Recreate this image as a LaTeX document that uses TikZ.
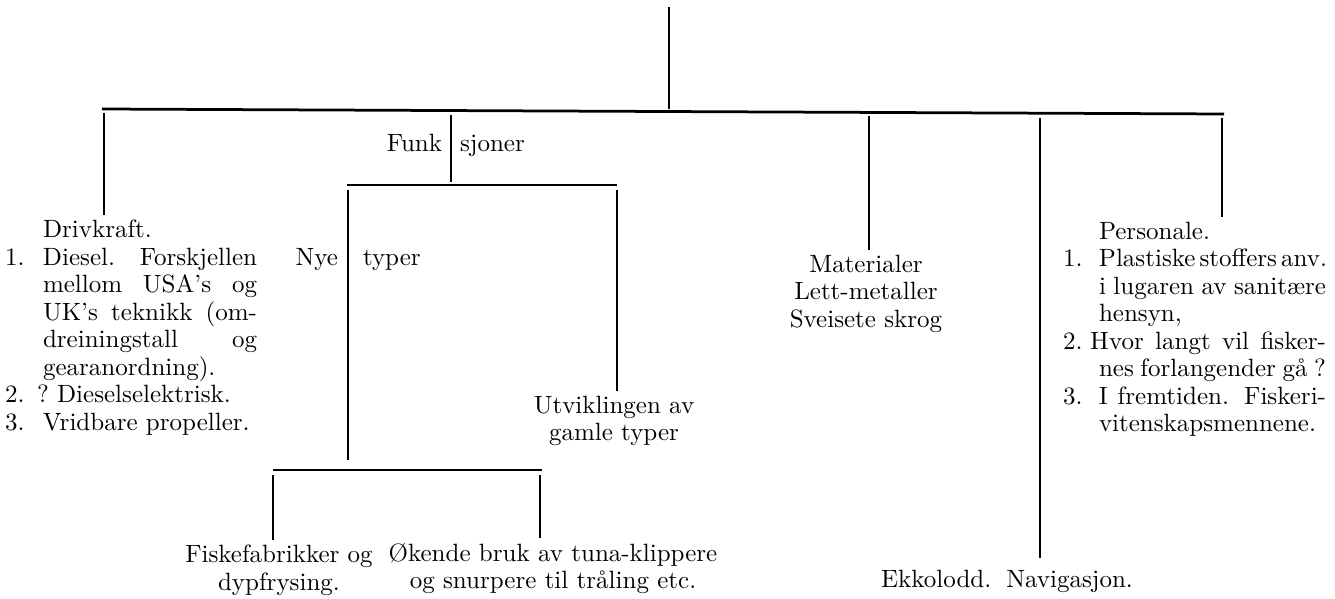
\documentclass[tikz,border=0pt]{standalone}
\newlength\numw
\newlength\txtw
\newcommand{\jline}[2]{\makebox[\numw][l]{#1}\makebox[\txtw][s]{#2}}
\newcommand{\lline}[2]{\makebox[\numw][l]{#1}\makebox[\txtw][l]{#2}}
\begin{document}
\begin{tikzpicture}[x=0.4pt,y=-0.4pt]
	\tikzstyle{entry}=[inner sep=0pt,outer sep=2pt,font=\fontsize{10}{11}\selectfont]
	\tikzstyle{bar}=[draw, line width=1.1pt]
	\tikzstyle{branch}=[draw, line width=0.9pt]
	\useasboundingbox (0,0) rectangle (1335,599);
	\begin{scope}
		\coordinate (root) at (669,7);
		\coordinate (barL) at (102,109);
		\coordinate (barR) at (1224,114);
		\coordinate (bDrv) at (104,113);
		\coordinate (bFnk) at (451,115);
		\coordinate (fFnk) at (451,182);
		\coordinate (bMat) at (869,116);
		\coordinate (bEkk) at (1040,118);
		\coordinate (bPer) at (1222,118);
		\coordinate (subL) at (347,185);
		\coordinate (subR) at (617,185);
		\coordinate (nyeT) at (348,190);
		\coordinate (nyeB) at (348,460);
		\coordinate (utvT) at (617,190);
		\coordinate (lowL) at (273,470);
		\coordinate (lowR) at (542,470);
		\coordinate (fskT) at (273,475);
		\coordinate (okeT) at (540,475);
		\setlength\numw{15.2pt}\setlength\txtw{85.6pt}
		\node [entry, anchor=north west, align=left] (drive) at (0,215) {\lline{}{Drivkraft.}\\
			\jline{1.}{Diesel. Forskjellen}\\
			\jline{}{mellom USA's og}\\
			\jline{}{UK's teknikk (om-}\\
			\jline{}{dreiningstall og}\\
			\lline{}{gearanordning).}\\
			\lline{2.}{\hspace*{-2.4pt}?~Dieselselektrisk.}\\
			\lline{3.}{Vridbare propeller.}};
		\setlength\numw{14.4pt}\setlength\txtw{90.8pt}
		\node [entry, anchor=north west, align=left] (pers) at (1058,217) {\lline{}{Personale.}\\
			\lline{1.}{Plastiske\,stoffers\,anv.}\\
			\jline{}{i lugaren av sanit\ae re}\\
			\lline{}{hensyn,}\\
			\jline{2.}{\hspace*{-3.5pt}Hvor langt vil fisker-}\\
			\jline{}{nes forlangender g\aa{} ?}\\
			\jline{3.}{I fremtiden. Fiskeri-}\\
			\lline{}{vitenskapsmennene.}};
		\node [entry, anchor=base east] (funk) at (447,152) {Funk};
		\node [entry, anchor=base west] (sjon) at (455,152) {sjoner};
		\node [entry, anchor=base east] (nye) at (343,265) {Nye};
		\node [entry, anchor=base west] (typer) at (358,265) {typer};
		\node [entry, anchor=north, align=center] (mat) at (866,250) {Materialer\\Lett-metaller\\Sveisete skrog};
		\node [entry, anchor=north, align=center] (utv) at (614,391) {Utviklingen av\\gamle typer};
		\node [entry, anchor=north, align=center] (fisk) at (279,540) {Fiskefabrikker og\\dypfrysing.};
		\node [entry, anchor=north, align=center] (oke) at (553,538) {\O kende bruk av tuna-klippere\\og snurpere til tr\aa ling etc.};
		\node [entry, anchor=north] (ekko) at (1007,565) {Ekkolodd.\hspace{6pt}Navigasjon.};
		\path[branch] (root) -- (root |- barL);
		\path[bar] (barL) -- (barR);
		\path[branch] (bDrv) -- (bDrv |- drive.north);
		\path[branch] (bFnk) -- (fFnk);
		\path[bar] (subL) -- (subR);
		\path[branch] (nyeT) -- (nyeB);
		\path[branch] (utvT) -- (utvT |- utv.north);
		\path[bar] (lowL) -- (lowR);
		\path[branch] (fskT) -- (fskT |- fisk.north);
		\path[branch] (okeT) -- (okeT |- oke.north);
		\path[branch] (bMat) -- (bMat |- mat.north);
		\path[branch, shorten >=2.8pt] (bEkk) -- (bEkk |- ekko.north);
		\path[branch] (bPer) -- (bPer |- pers.north);
	\end{scope}
\end{tikzpicture}
\end{document}
